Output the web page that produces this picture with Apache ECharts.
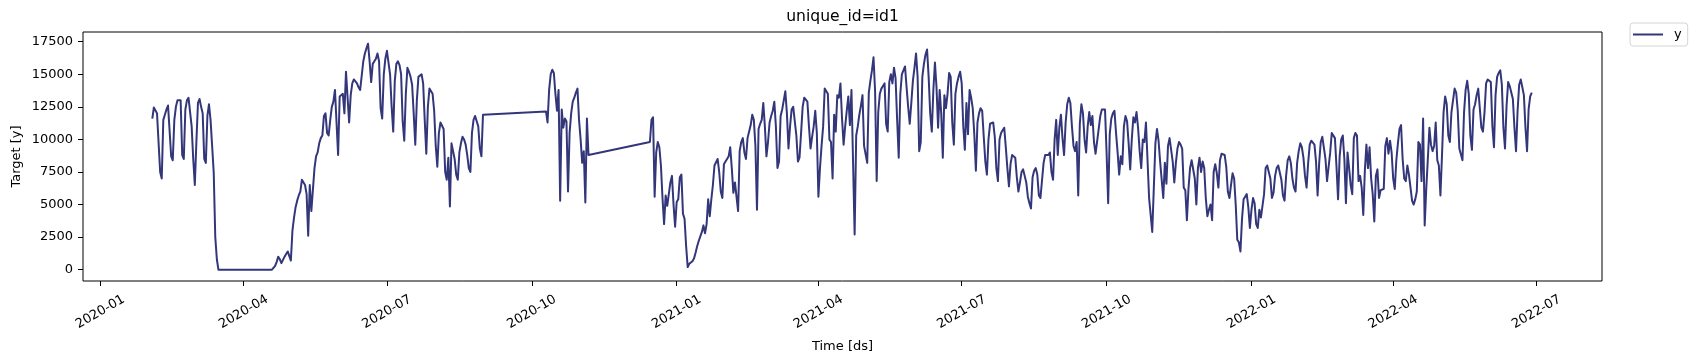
<!DOCTYPE html>
<html>
<head>
<meta charset="utf-8">
<script src="https://cdn.jsdelivr.net/npm/echarts@6/dist/echarts.min.js"></script>
<style>
html,body{margin:0;padding:0;background:#ffffff;}
#chart{width:1697px;height:361px;}
</style>
</head>
<body>
<div id="chart"></div>
<script>
// ---- data (daily values) ----
const seriesName = 'y';
const segAStart = '2020-02-03';
const segA = [
11600,12450,12300,12000,12050,7500,7000,
11500,11900,12300,12600,12600,8700,8400,
11500,12500,13000,13100,13000,8800,8500,
12300,13000,13200,13300,11000,8500,6500,
9800,12800,13100,12500,12000,8500,8200,
11800,12700,11500,9500,7500,2500,800,
0,0,0,0,0,0,0,
0,0,0,0,0,0,0,
0,0,0,0,0,0,0,
0,0,0,0,0,0,0,
0,0,0,0,0,0,0,
0,300,600,1000,800,500,600,
1000,1200,1400,1400,700,3000,4000,
4800,5300,5700,6000,6900,6900,6500,
5800,2600,6500,4500,4400,7800,8700,
9000,9700,10100,10300,11800,12000,10500,
10300,11500,12500,12900,13800,13700,8800,
13300,13400,13500,12000,15200,15100,11300,
13400,14300,14600,14500,14300,14000,13800,
13900,16000,16600,17000,17350,16000,14400,
15800,16000,16200,16600,16000,12400,11600,
15000,16200,16800,16700,15000,12500,10600,
14500,15800,16000,15700,15000,11400,9900,
13500,15500,15200,14800,14200,12000,9600,
13000,14800,14900,15000,14300,11500,8900,
12500,13900,13900,13500,12200,9500,7900,
10500,11300,11400,10800,7500,6900,8600,
4850,9700,9800,8500,7300,6900,9000,
9700,10200,10000,9600,8800,7800,7500,
10500,11500,11800,11700,11000,9300,8700,
11900
];
const segBStart = '2020-10-10';
const segB = [
12150,11300,13800,15000,15350,15100,13500,
12200,13800,5300,12300,10900,11600,11400,
6000,10500,12000,12900,13200,13600,13900,
11500,10000,8200,9100,5150,11600,8800
];
const segCStart = '2020-12-15';
const segC = [
9800,11500,11700,5600,9000,9800,9400,
8000,5500,3500,5700,4900,5800,6700,
7200,5000,3300,5200,5400,7100,7300,
4300,3900,1800,200,450,550,650,
850,1300,1800,2200,2300,2900,3400,
2800,3500,5400,4100,5400,6500,8000,
8100,8500,7500,6000,5500,8100,8300,
8500,8700,9400,7800,5900,6700,6600,
4500,9100,9800,10100,9000,8500,10100,
10600,11100,11900,11500,9500,4600,10800,
11200,11500,12800,11000,8700,9800,11300,
11800,12200,12900,11000,7800,8300,11800,
12300,13000,13700,12000,9300,11000,12300,
12500,12500,10300,8300,8600,10500,12500,
13200,13200,12900,11000,9300,10200,11000,
12200,10500,5600,7800,9500,11000,13900,
13800,13500,10000,9800,7000,11900,10600,
13400,13200,14300,11600,9600,11000,12200,
13300,11100,13800,8300,2700,10300,11000,
11900,12600,13400,9500,9600,8200,13600,
14500,15300,16300,13700,6800,12100,13500,
13900,14100,14300,11200,10600,14400,15000,
14300,15500,14700,11500,8600,13500,15000,
15300,15600,14000,12500,11200,12800,14500,
15500,16600,14800,9100,9800,14800,15800,
16500,16900,14800,12000,10600,13800,15900,
14000,10900,13800,12000,8600,13400,12400,
13500,15100,14800,11300,9600,13500,14300,
14800,15200,14300,11000,9200,12800,10400,
13800,13200,12400,10400,7600,11300,12000,
12400,12200,10200,8300,7300,10000,11200,
11300,11300,10200,7800,6800,10000,10500,
10700,10900,9400,7800,6400,8100,8800,
8900,8600,7100,6000,6700,7500,7700,
7700,6700,5600,5100,4700,7100,7600,
7800,7300,5700,5500,5500,8200,8800,
8900,8800,9000,7500,6900,10000,11500,
8800,10900,11900,10100,8800,11300,12700,
13200,12800,11000,9500,9100,9800,5700,
11200,12700,12000,10000,9000,11000,12100,
11100,11800,9800,8900,8900,10800,11800,
12300,12400,12300,9000,5100,10400,11600,
12000,12200,10500,9000,7300,8700,8100,
11000,11800,11400,9700,7700,10000,11700,
11300,12100,10900,9100,7800,10000,9800,
11300,11200,5500,4200,2900,6300,9700,
10800,9900,8300,6900,5500,8200,6600,
9500,10100,10000,8300,6700,8200,9300,
9800,9600,9300,6300,6100,3800,6200,
7800,8400,8300,7000,5000,7800,8600,
7500,8300,7800,5500,4100,4600,5000,
3800,7500,8100,7400,6300,8400,8900,
9000,8800,7900,6000,5500,6500,7400,
7000,5000,2300,2100,1400,3900,5400,
5600,5800,4800,3200,4600,5500,5100,
3500,3200,4600,4000,3900,5800,7800,
8000,8000,7000,5500,5900,7200,7800,
8000,8000,6900,5700,5300,7200,8400,
8700,8200,7000,6300,6000,8200,9100,
9700,9400,8600,7200,6300,8200,9600,
9900,10000,9600,8300,5700,8200,9800,
10200,10200,8500,6800,6700,9000,10500,
10500,10100,7900,5400,8700,10000,10300,
8500,5100,9000,7800,6500,5800,10100,
10500,10300,6800,7200,6300,4200,7600,
9600,7800,9400,7000,5800,3700,7200,
7700,5500,6100,6100,6200,9500,10100,
8900,9900,9000,7000,6200,8400,9700,
10800,11100,8500,7000,6800,8000,7300,
7200,5300,5000,5400,6000,9800,9600,
6800,11600,3400,6200,8500,10900,9600,
9100,9500,11300,8400,8000,5700,8800,
12100,13300,12700,10300,9800,12100,13000,
13900,13600,12200,9300,9200,8400,12100,
13800,14500,13500,10300,9200,12300,12700,
13400,13900,13800,10900,10600,12100,14300,
14600,14700,14400,11000,9400,13400,14800,
15100,15300,14200,10900,9300,12600,14400,
14100,13600,13100,10900,9100,12200,14200,
14600,14000,13400,10900,9100,12300,13300,
13600
];
const yTickValues = [0, 2500, 5000, 7500, 10000, 12500, 15000, 17500];
const xTickLabels = ['2020-01','2020-04','2020-07','2020-10','2021-01','2021-04','2021-07','2021-10','2022-01','2022-04','2022-07'];
const titleText = 'unique_id=id1';
const xName = 'Time [ds]';
const yName = 'Target [y]';

// ---- build ----
const DAY = 86400000;
function toTs(s){ const p = s.split('-').map(Number); return Date.UTC(p[0], p[1]-1, p[2] || 1); }
const data = [];
[[segAStart, segA], [segBStart, segB], [segCStart, segC]].forEach(function(seg){
  const t0 = toTs(seg[0]);
  seg[1].forEach(function(v, i){ data.push([t0 + i*DAY, v]); });
});
const xTickValues = xTickLabels.map(function(l){ return toTs(l + '-01'); });
const base = toTs('2020-01-01');
const xMin = base - 11.0*DAY, xMax = base + 953.6*DAY;

const FONT = 'DejaVu Sans';
const LINE = '#33377a';
const GRID = {left: 83, top: 32, width: 1519, height: 249};
const titleGraphic = {
  type: 'text', x: 842.5, y: 16.5, silent: true,
  style: {text: titleText, fontSize: 15.6, fontFamily: FONT, fill: '#000', align: 'center', verticalAlign: 'middle'}
};
const chart = echarts.init(document.getElementById('chart'), null, {renderer:'canvas'});
chart.setOption({
  animation: false,
  backgroundColor: '#ffffff',
  textStyle: {fontFamily: FONT},
  grid: {left: GRID.left, top: GRID.top, width: GRID.width, height: GRID.height, show: true,
         borderColor: '#000', borderWidth: 1, containLabel: false, outerBoundsMode: 'none'},
  graphic: [titleGraphic],
  legend: {
    show: true, left: 1630, top: 23, orient: 'vertical',
    padding: [5, 6, 5, 3], itemWidth: 30, itemHeight: 2,
    backgroundColor: '#fff', borderColor: '#d4d4d4', borderWidth: 1, borderRadius: 3,
    data: [{name: seriesName, icon: 'rect'}],
    textStyle: {fontSize: 13, color: '#000', fontFamily: FONT, padding: [0, 0, 0, 6]}
  },
  xAxis: {
    type: 'value', min: xMin, max: xMax,
    axisLine: {show: false, onZero: false}, splitLine: {show: false},
    axisTick: {show: true, customValues: xTickValues, length: 5, lineStyle: {color: '#000', width: 1}},
    axisLabel: {show: false},
    name: xName, nameLocation: 'middle', nameGap: 59, nameMoveOverlap: false,
    nameTextStyle: {fontSize: 13, color: '#000', fontFamily: FONT, verticalAlign: 'top'}
  },
  yAxis: {
    type: 'value', min: -869, max: 18246,
    axisLine: {show: false, onZero: false}, splitLine: {show: false},
    axisTick: {show: true, customValues: yTickValues, length: 5, lineStyle: {color: '#000', width: 1}},
    axisLabel: {customValues: yTickValues, formatter: function(v){ return String(v); }, margin: 10,
                fontSize: 13, color: '#000', fontFamily: FONT},
    name: yName, nameLocation: 'middle', nameGap: 60, nameRotate: 90, nameMoveOverlap: false,
    nameTextStyle: {fontSize: 13, color: '#000', fontFamily: FONT}
  },
  series: [{
    name: seriesName, type: 'line', data: data, showSymbol: false, symbol: 'none',
    lineStyle: {width: 2, color: LINE, join: 'round'}, itemStyle: {color: LINE},
    emphasis: {disabled: true}, silent: true
  }]
});

// rotated date tick labels, placed through the x axis scale
const labelY = GRID.top + GRID.height + 31;
const xLabelGraphics = xTickValues.map(function(v, i){
  return {
    type: 'text', x: chart.convertToPixel({xAxisIndex: 0}, v), y: labelY, rotation: Math.PI/6, silent: true,
    style: {text: xTickLabels[i], fontSize: 13, fontFamily: FONT, fill: '#000', align: 'center', verticalAlign: 'middle'}
  };
});
chart.setOption({graphic: [titleGraphic].concat(xLabelGraphics)});
</script>
</body>
</html>
